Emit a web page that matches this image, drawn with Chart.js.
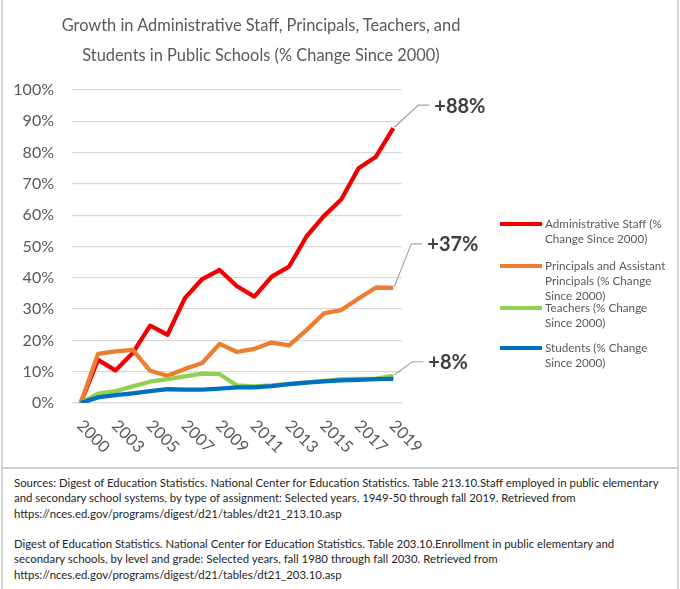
<!DOCTYPE html>
<html>
<head>
<meta charset="utf-8">
<script src="https://cdn.jsdelivr.net/npm/chart.js@4.4.1/dist/chart.umd.min.js"></script>
<style>
  html, body { margin: 0; padding: 0; background: #fff; }
  #page { position: relative; width: 680px; height: 589px; overflow: hidden; font-family: Lato, sans-serif; }
  #box { position: absolute; left: 1px; top: -3px; width: 674px; height: 600px; border-left: 2px solid #d2d2d2; border-right: 2px solid #d2d2d2; }
  #rule { position: absolute; left: 1px; top: 467px; width: 678px; height: 2px; background: #d2d2d2; }
  #title { position: absolute; left: 0; top: 10px; width: 522px; text-align: center; color: #595959; font-size: 16.4px; line-height: 30px; }
  #chartWrap { position: absolute; left: 0; top: 0; width: 680px; height: 466px; }
  #sources { position: absolute; left: 14px; top: 475px; color: #262626; font-size: 11.4px; line-height: 15.3px; white-space: nowrap; }
  #sources p { margin: 0 0 15.3px 0; }
</style>
</head>
<body>
<div id="page">
  <div id="box"></div>
  <div id="rule"></div>
  <div id="chartWrap"><canvas id="growthChart"></canvas></div>
  <div id="title">Growth in Administrative Staff, Principals, Teachers, and<br>Students in Public Schools (% Change Since 2000)</div>
  <div id="sources">
    <p>Sources: Digest of Education Statistics. National Center for Education Statistics. Table 213.10.Staff employed in public elementary<br>and secondary school systems, by type of assignment: Selected years, 1949-50 through fall 2019. Retrieved from<br>https://nces.ed.gov/programs/digest/d21/tables/dt21_213.10.asp</p>
    <p>Digest of Education Statistics. National Center for Education Statistics. Table 203.10.Enrollment in public elementary and<br>secondary schools, by level and grade: Selected years, fall 1980 through fall 2030. Retrieved from<br>https://nces.ed.gov/programs/digest/d21/tables/dt21_203.10.asp</p>
  </div>
</div>
<script>
const years = ['2000', '2001', '2003', '2004', '2005', '2006', '2007', '2008', '2009', '2010',
               '2011', '2012', '2013', '2014', '2015', '2016', '2017', '2018', '2019'];

const adminStaff = [0, 13.8, 10.4, 16.0, 24.7, 21.8, 33.5, 39.6, 42.5, 37.3,
                    34.0, 40.4, 43.6, 53.2, 59.7, 65.0, 75.0, 78.7, 87.8];
const principals = [0, 15.7, 16.5, 17.0, 10.3, 8.7, 10.9, 12.8, 18.9, 16.3,
                    17.3, 19.3, 18.4, 23.3, 28.6, 29.7, 33.4, 36.9, 36.8];
const teachers = [0, 3.0, 3.8, 5.3, 6.8, 7.6, 8.5, 9.4, 9.2, 5.6,
                  5.3, 5.6, 6.1, 6.6, 7.1, 7.6, 7.7, 7.8, 8.7];
const students = [0, 1.8, 2.5, 3.1, 3.8, 4.4, 4.3, 4.3, 4.6, 5.0,
                  5.0, 5.4, 6.0, 6.5, 6.9, 7.2, 7.4, 7.6, 7.7];

const seriesNames = ['Administrative Staff (% Change Since 2000)',
                     'Principals and Assistant Principals (% Change Since 2000)',
                     'Teachers (% Change Since 2000)',
                     'Students (% Change Since 2000)'];
const seriesColors = ['#f00000', '#ed7d31', '#92d050', '#0070c0'];

const yTicks = [0, 10, 20, 30, 40, 50, 60, 70, 80, 90, 100];

// callouts: which series the leader starts at, which series gives the number
const callouts = [
    { anchor: 0, value: 0, dx: 24, dy: -22 },
    { anchor: 1, value: 1, dx: 17, dy: -43 },
    { anchor: 2, value: 3, dx: 18, dy: -13 }
];

const grey = '#595959';

function wrapText(ctx, text, maxWidth) {
    const words = text.split(' ');
    const lines = [];
    let line = '';
    words.forEach(w => {
        const test = line ? line + ' ' + w : w;
        if (ctx.measureText(test).width > maxWidth && line) {
            lines.push(line);
            line = w;
        } else {
            line = test;
        }
    });
    if (line) lines.push(line);
    return lines;
}

const extras = {
    id: 'extras',
    afterDraw(chart) {
        const ctx = chart.ctx;
        const xs = chart.scales.x;
        const ys = chart.scales.y;
        const bottom = chart.chartArea.bottom;

        // rotated year labels, every other category
        ctx.save();
        ctx.fillStyle = grey;
        ctx.font = '16.5px Lato, sans-serif';
        ctx.textAlign = 'left';
        ctx.textBaseline = 'middle';
        years.forEach((yr, i) => {
            if (i % 2) return;
            ctx.save();
            ctx.translate(xs.getPixelForValue(i) - 1, bottom + 20);
            ctx.rotate(Math.PI / 4);
            ctx.fillText(yr, 0, 0);
            ctx.restore();
        });
        ctx.restore();

        // legend
        ctx.save();
        ctx.font = '11.7px Lato, sans-serif';
        ctx.textAlign = 'left';
        ctx.textBaseline = 'middle';
        const legendTops = [224, 266, 308, 348];
        chart.data.datasets.forEach((ds, i) => {
            const y = legendTops[i];
            ctx.strokeStyle = ds.borderColor;
            ctx.lineWidth = 4;
            ctx.beginPath();
            ctx.moveTo(500, y);
            ctx.lineTo(542, y);
            ctx.stroke();
            ctx.fillStyle = grey;
            wrapText(ctx, ds.label, 121).forEach((ln, k) => {
                ctx.fillText(ln, 545, y + k * 15.3);
            });
        });
        ctx.restore();

        // callouts at the end of the lines
        ctx.save();
        const last = years.length - 1;
        callouts.forEach(c => {
            const px = xs.getPixelForValue(last) + 1;
            const py = ys.getPixelForValue(chart.data.datasets[c.anchor].data[last]) - 1;
            const ex = px + c.dx;
            const ey = py + c.dy;
            ctx.strokeStyle = '#a6a6a6';
            ctx.lineWidth = 1.2;
            ctx.beginPath();
            ctx.moveTo(px, py);
            ctx.lineTo(ex, ey);
            ctx.lineTo(ex + 11, ey);
            ctx.stroke();
            const v = Math.round(chart.data.datasets[c.value].data[last]);
            ctx.fillStyle = '#404040';
            ctx.font = 'bold 20px Lato, sans-serif';
            ctx.textAlign = 'left';
            ctx.textBaseline = 'middle';
            ctx.fillText('+' + v + '%', ex + 16, ey + 1);
        });
        ctx.restore();
    }
};

const seriesData = [adminStaff, principals, teachers, students];

new Chart(document.getElementById('growthChart'), {
    type: 'line',
    data: {
        labels: years,
        datasets: seriesData.map((d, i) => ({
            label: seriesNames[i],
            data: d,
            borderColor: seriesColors[i],
            backgroundColor: seriesColors[i],
            borderWidth: 4.3,
            pointRadius: 0,
            tension: 0,
            borderJoinStyle: 'round',
            order: 3 - i
        }))
    },
    options: {
        responsive: true,
        maintainAspectRatio: false,
        animation: false,
        layout: { padding: { top: 90, right: 278, bottom: 63, left: 0 } },
        plugins: {
            legend: { display: false },
            tooltip: { enabled: false },
            title: { display: false }
        },
        scales: {
            x: {
                offset: true,
                grid: { display: false, drawTicks: false },
                border: { display: false },
                ticks: { display: false },
                afterFit: s => { s.height = 0; }
            },
            y: {
                min: 0,
                max: 100,
                afterBuildTicks: s => { s.ticks = yTicks.map(v => ({ value: v })); },
                grid: { color: '#d9d9d9', lineWidth: 1.3, drawTicks: false },
                border: { display: false },
                ticks: {
                    padding: 18,
                    color: grey,
                    font: { family: 'Lato, sans-serif', size: 16 },
                    callback: v => v + '%'
                },
                afterFit: s => { s.width = 72; }
            }
        }
    },
    plugins: [extras]
});
</script>
</body>
</html>
